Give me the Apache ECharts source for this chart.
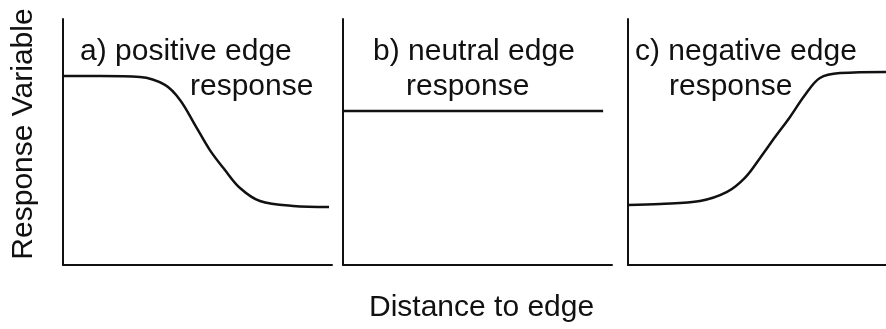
<!DOCTYPE HTML>
<html>
    <head>
        <title>Edge response</title>
        <meta charset="utf-8">
        <script src="https://cdn.jsdelivr.net/npm/echarts@6/dist/echarts.min.js"></script>
        <style>
            html, body { margin: 0; padding: 0; background: #fff; }
            #chart { width: 886px; height: 329px; }
        </style>
    </head>
    <body>
        <div id="chart"></div>
        <script>
        // curve values (x: distance 0-100, y: response 0-100)
        var posX = [0, 13.8, 28.6, 37.9, 43.5, 49.1, 54.6, 60.2, 65.8, 73.2, 85.5, 98.9];
        var posY = [76.8, 76.8, 76.4, 73.2, 67.1, 56.9, 46.7, 38.6, 31.3, 26.0, 24.0, 23.6];
        var neuX = [0, 96.7];
        var neuY = [62.6, 62.6];
        var negX = [0, 12.4, 27.9, 38.4, 45.3, 51.2, 57.0, 62.8, 68.6, 74.4, 82.2, 100];
        var negY = [24.4, 24.8, 26.0, 29.7, 35.4, 43.5, 52.0, 60.2, 69.1, 76.0, 78.0, 78.5];

        var titles = [
            ['a) positive edge', 'response'],
            ['b) neutral edge', 'response'],
            ['c) negative edge', 'response']
        ];
        var yName = 'Response Variable';
        var xName = 'Distance to edge';

        function pairs(xs, ys) {
            return xs.map(function (x, i) { return [x, ys[i]]; });
        }

        var font = '"Liberation Sans", Arial, sans-serif';
        var grids = [
            { left: 63, top: 19, width: 269, height: 246 },
            { left: 343, top: 19, width: 269, height: 246 },
            { left: 628, top: 19, width: 258, height: 246 }
        ];
        var axisLine = { show: true, lineStyle: { color: '#111', width: 2 } };
        var xAxes = [], yAxes = [], series = [];
        var curves = [pairs(posX, posY), pairs(neuX, neuY), pairs(negX, negY)];
        for (var i = 0; i < 3; i++) {
            xAxes.push({ type: 'value', gridIndex: i, min: 0, max: 100,
                axisLine: axisLine, axisTick: { show: false }, axisLabel: { show: false }, splitLine: { show: false } });
            yAxes.push({ type: 'value', gridIndex: i, min: 0, max: 100,
                axisLine: axisLine, axisTick: { show: false }, axisLabel: { show: false }, splitLine: { show: false } });
            series.push({ type: 'line', xAxisIndex: i, yAxisIndex: i, data: curves[i],
                smooth: 0.35, showSymbol: false, silent: true,
                lineStyle: { color: '#111', width: 2.5 } });
        }

        var txt = function (x, y, s) {
            return { type: 'text', x: x, y: y,
                style: { text: s, font: '30px ' + font, fill: '#111', textVerticalAlign: 'middle' } };
        };

        var myChart = echarts.init(document.getElementById('chart'), null, { renderer: 'canvas' });
        myChart.setOption({
            animation: false,
            backgroundColor: '#fff',
            grid: grids,
            xAxis: xAxes,
            yAxis: yAxes,
            series: series,
            graphic: [
                txt(80, 52, titles[0][0]),
                txt(190, 87, titles[0][1]),
                txt(373, 52, titles[1][0]),
                txt(406, 87, titles[1][1]),
                txt(635, 52, titles[2][0]),
                txt(669, 87, titles[2][1]),
                txt(369, 308, xName),
                { type: 'text', x: 24, y: 134, rotation: Math.PI / 2,
                  style: { text: yName, font: '30px ' + font, fill: '#111',
                           textAlign: 'center', textVerticalAlign: 'middle' } }
            ]
        });
        </script>
    </body>
</html>
